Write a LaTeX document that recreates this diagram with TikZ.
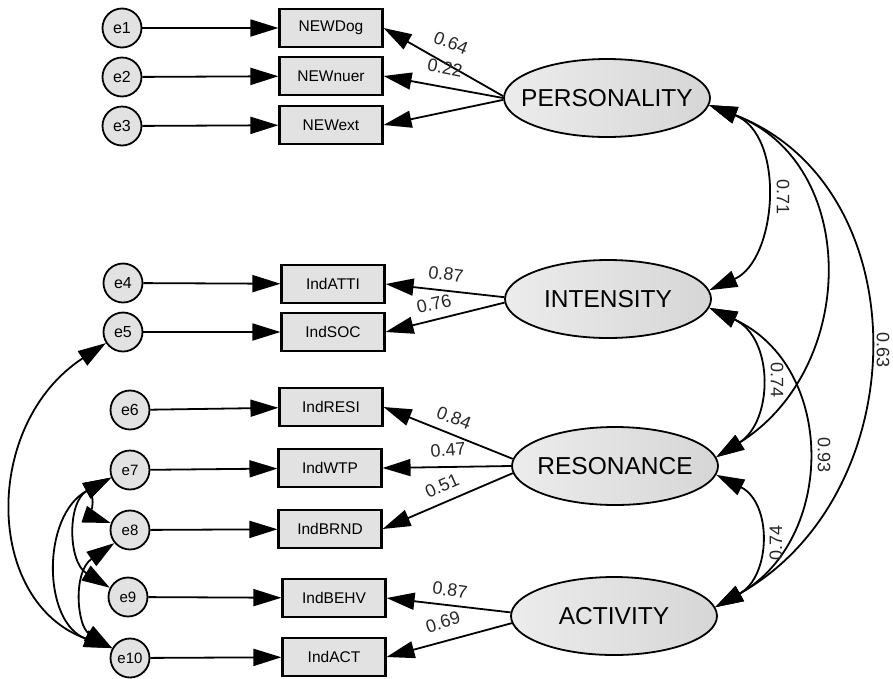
\documentclass[tikz,border=0pt]{standalone}
\usepackage{fontspec}
\setmainfont{Liberation Sans}
\usetikzlibrary{shapes.geometric,arrows.meta}
\definecolor{varfill}{RGB}{226,226,226}
\definecolor{latlight}{RGB}{236,236,236}
\definecolor{latdark}{RGB}{214,214,214}

\begin{document}
\begin{tikzpicture}[x=1pt,y=-1pt,
  obs/.style={draw, line width=2.1pt, fill=varfill, minimum width=103pt,
    minimum height=38pt, inner sep=0pt, font=\fontsize{15.5}{18}\selectfont},
  err/.style={circle, draw, line width=1.8pt, fill=varfill, minimum size=39pt,
    inner sep=0pt, font=\fontsize{16}{18}\selectfont},
  errsm/.style={err, font=\fontsize{15}{17}\selectfont},
  lat/.style={ellipse, draw, line width=1.8pt, left color=latlight, right color=latdark,
    minimum width=206pt, minimum height=78pt, inner sep=0pt},
  latname/.style={font=\fontsize{24.5}{28}\selectfont, inner sep=0pt},
  conn/.style={line width=1.8pt, -{Triangle[length=28pt,width=17pt]}},
  cov/.style={line width=1.8pt,
    {Triangle[length=28pt,width=17pt]}-{Triangle[length=28pt,width=17pt]}},
  coef/.style={font=\fontsize{18}{20}\selectfont, inner sep=0pt, text=black!85}
]
\useasboundingbox (0,0) rectangle (893,678);

% latent variables (names set as centred labels so the ellipse keeps its size)
\node[lat, label={[latname]center:PERSONALITY}] (P) at (607,98)  {};
\node[lat, label={[latname]center:INTENSITY}]   (I) at (608,299) {};
\node[lat, label={[latname]center:RESONANCE}]   (R) at (615,466) {};
\node[lat, label={[latname]center:ACTIVITY}]    (A) at (614,616) {};

% indicators
\node[obs] (NEWDog)  at (331,28)  {NEWDog};
\node[obs] (NEWnuer) at (331,76)  {NEWnuer};
\node[obs] (NEWext)  at (331,125) {NEWext};
\node[obs] (IndATTI) at (333,284) {IndATTI};
\node[obs] (IndSOC)  at (333,332) {IndSOC};
\node[obs] (IndRESI) at (331,407) {IndRESI};
\node[obs] (IndWTP)  at (330,468) {IndWTP};
\node[obs] (IndBRND) at (330,529) {IndBRND};
\node[obs] (IndBEHV) at (334,598) {IndBEHV};
\node[obs] (IndACT)  at (334,657) {IndACT};

% error terms
\node[err]   (e1)  at (122,28)  {e1};
\node[err]   (e2)  at (122,77)  {e2};
\node[err]   (e3)  at (122,126) {e3};
\node[err]   (e4)  at (123,283) {e4};
\node[err]   (e5)  at (123,332) {e5};
\node[err]   (e6)  at (130,410) {e6};
\node[errsm] (e7)  at (130,470) {e7};
\node[errsm] (e8)  at (130,530) {e8};
\node[errsm] (e9)  at (128,597) {e9};
\node[errsm] (e10) at (130,658) {e10};

% error -> indicator
\draw[conn] (e1) -- (NEWDog);
\draw[conn] (e2) -- (NEWnuer);
\draw[conn] (e3) -- (NEWext);
\draw[conn] (e4) -- (IndATTI);
\draw[conn] (e5) -- (IndSOC);
\draw[conn] (e6) -- (IndRESI);
\draw[conn] (e7) -- (IndWTP);
\draw[conn] (e8) -- (IndBRND);
\draw[conn] (e9) -- (IndBEHV);
\draw[conn] (e10) -- (IndACT);

% factor loadings, all leaving near the west end of each ellipse
\draw[conn] (P.179) -- (NEWDog.east);
\draw[conn] (P.180) -- (NEWnuer.east);
\draw[conn] (P.181) -- (NEWext.east);
\draw[conn] (I.179) -- (IndATTI.east);
\draw[conn] (I.182) -- (IndSOC.east);
\draw[conn] (R.176) -- (IndRESI.east);
\draw[conn] (R.180) -- (IndWTP.east);
\draw[conn] (R.184) -- (IndBRND.east);
\draw[conn] (A.178) -- (IndBEHV.east);
\draw[conn] (A.184) -- (IndACT.east);

\node[coef, rotate=-22] (l1) at (451,43)  {0.64};
\node[coef, rotate=-11] (l2) at (445,68)  {0.22};
\node[coef, rotate=-7]  (l3) at (446,274) {0.87};
\node[coef, rotate=13]  (l4) at (434,304) {0.76};
\node[coef, rotate=-21] (l5) at (454,418) {0.84};
\node[coef, rotate=5]   (l6) at (448,450) {0.47};
\node[coef, rotate=24]  (l7) at (442,486) {0.51};
\node[coef, rotate=-8]  (l8) at (450,590) {0.87};
\node[coef, rotate=17]  (l9) at (443,622) {0.69};

% factor covariances
\draw[cov] (P.-4) .. controls +(77,30)  and +(68,-30) .. (I.5);
\draw[cov] (P.-4) .. controls +(151,58) and +(142,-89) .. (R.5);
\draw[cov] (P.-4) .. controls +(211,81) and +(202,-113) .. (A.5);
\draw[cov] (I.-5) .. controls +(65,30)  and +(57,-36) .. (R.5);
\draw[cov] (I.-5) .. controls +(128,59) and +(120,-67) .. (A.5);
\draw[cov] (R.-5) .. controls +(56,28)  and +(56,-31) .. (A.5);

\node[coef, rotate=-90] (c1) at (783,197) {0.71};
\node[coef, rotate=-90] (c2) at (777,380) {0.74};
\node[coef, rotate=-90] (c3) at (824,455) {0.93};
\node[coef, rotate=-90] (c4) at (883,350) {0.63};
\node[coef, rotate=90]  (c5) at (776,543) {0.74};

% error covariances
\draw[cov] (e5.213) .. controls +(-124,81) and +(-128,-46) .. (e10.151);
\draw[cov] (e7.202) .. controls +(-70,38)  and +(-70,-25) .. (e10.151);
\draw[cov] (e7.202) .. controls +(-44,24)  and +(-42,-26) .. (e9.153);
\draw[cov] (e7.202) .. controls +(-17,9)   and +(-15,-5) .. (e8.160);
\draw[cov] (e8.220) .. controls +(-42,29)  and +(-35,-22) .. (e10.151);
\end{tikzpicture}
\end{document}
